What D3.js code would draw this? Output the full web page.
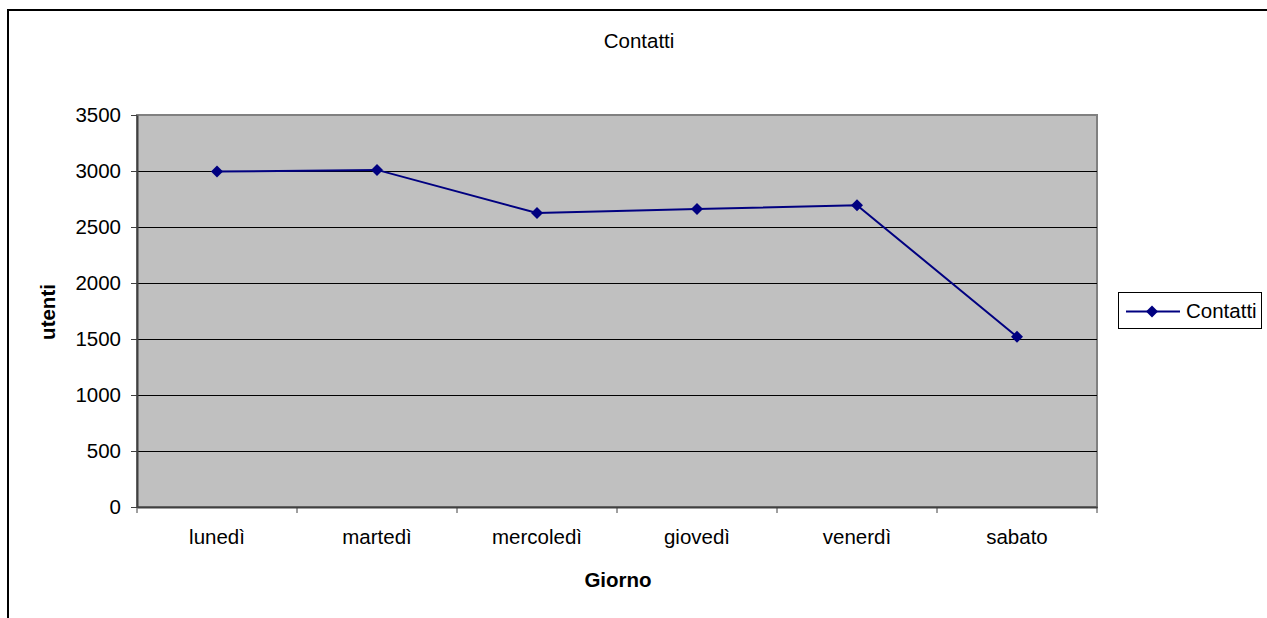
<!DOCTYPE html>
<html>
<head>
<meta charset="utf-8">
<script src="https://cdn.jsdelivr.net/npm/d3@7"></script>
<style>
  html, body { margin: 0; padding: 0; background: #fff; overflow: hidden; }
  svg { display: block; font-family: "Liberation Sans", Arial, sans-serif; }
</style>
</head>
<body>
<svg id="chart" width="1267" height="618"></svg>
<script>
const categories = ["lunedì", "martedì", "mercoledì", "giovedì", "venerdì", "sabato"];
const values = [2995, 3010, 2625, 2660, 2695, 1520];
const yTicks = [0, 500, 1000, 1500, 2000, 2500, 3000, 3500];
const seriesName = "Contatti";
const chartTitle = "Contatti";
const xTitle = "Giorno";
const yTitle = "utenti";

const FONT = "Liberation Sans, Arial, sans-serif";
const FS = 20.5;
const svg = d3.select("#chart");
const W = 1267, H = 618;
const plot = { left: 137, right: 1097, top: 115, bottom: 507 };

// outer border
svg.append("rect").attr("x", 8).attr("y", 10).attr("width", W + 10).attr("height", H + 10)
  .attr("fill", "#fff").attr("stroke", "#000").attr("stroke-width", 2);

const x = d3.scaleBand().domain(categories).range([plot.left, plot.right]).padding(0);
const y = d3.scaleLinear().domain([0, 3500]).range([plot.bottom, plot.top]);

// plot area
svg.append("rect").attr("x", plot.left).attr("y", plot.top)
  .attr("width", plot.right - plot.left).attr("height", plot.bottom - plot.top)
  .attr("fill", "#C0C0C0").attr("stroke", "#808080").attr("stroke-width", 2);

// gridlines
svg.append("g").selectAll("line").data(yTicks.filter(d => d > 0 && d < 3500)).join("line")
  .attr("x1", plot.left).attr("x2", plot.right)
  .attr("y1", d => Math.round(y(d)) + 0.5).attr("y2", d => Math.round(y(d)) + 0.5)
  .attr("stroke", "#000").attr("stroke-width", 1);

// y axis
const yAxis = d3.axisLeft(y).tickValues(yTicks).tickFormat(d3.format("d"))
  .tickSize(6).tickPadding(10).tickSizeOuter(0);
const gy = svg.append("g").attr("transform", `translate(${plot.left},0)`).call(yAxis);
gy.select(".domain").attr("stroke", "#404040").attr("stroke-width", 2);
gy.selectAll(".tick line").attr("stroke", "#404040");
gy.selectAll(".tick text").attr("font-size", FS).attr("fill", "#000").attr("font-family", FONT);

// x axis
const xAxis = d3.axisBottom(x).tickSize(0).tickPadding(22).tickSizeOuter(0);
const gx = svg.append("g").attr("transform", `translate(0,${plot.bottom})`).call(xAxis);
gx.select(".domain").attr("stroke", "#404040").attr("stroke-width", 2);
gx.selectAll(".tick text").attr("font-size", FS).attr("fill", "#000").attr("font-family", FONT);
// category boundary ticks
const bounds = categories.map(c => x(c)).concat([x(categories[categories.length - 1]) + x.bandwidth()]);
svg.append("g").selectAll("line").data(bounds).join("line")
  .attr("x1", d => d).attr("x2", d => d)
  .attr("y1", plot.bottom).attr("y2", plot.bottom + 6)
  .attr("stroke", "#404040").attr("stroke-width", 1);

// line
const cx = c => x(c) + x.bandwidth() / 2;
const pts = categories.map((c, i) => [cx(c), y(values[i])]);
svg.append("path").datum(pts)
  .attr("d", d3.line())
  .attr("fill", "none").attr("stroke", "#000080").attr("stroke-width", 2);

const diamond = (px, py, r) => `M${px},${py - r}L${px + r},${py}L${px},${py + r}L${px - r},${py}Z`;
svg.append("g").selectAll("path").data(pts).join("path")
  .attr("d", d => diamond(d[0], d[1], 6))
  .attr("fill", "#000080");

// titles
svg.append("text").attr("x", 639).attr("y", 48).attr("text-anchor", "middle")
  .attr("font-size", FS).text(chartTitle);
svg.append("text").attr("x", (plot.left + plot.right) / 2 + 1).attr("y", 587).attr("text-anchor", "middle")
  .attr("font-size", FS).attr("font-weight", "bold").text(xTitle);
svg.append("text").attr("transform", `translate(55,${(plot.top + plot.bottom) / 2 + 1}) rotate(-90)`)
  .attr("text-anchor", "middle").attr("font-size", FS).attr("font-weight", "bold").text(yTitle);

// legend
const lg = svg.append("g");
lg.append("rect").attr("x", 1118.5).attr("y", 292.5).attr("width", 143).attr("height", 36)
  .attr("fill", "#fff").attr("stroke", "#000").attr("stroke-width", 1);
lg.append("line").attr("x1", 1126).attr("x2", 1180).attr("y1", 311.5).attr("y2", 311.5)
  .attr("stroke", "#000080").attr("stroke-width", 2);
lg.append("path").attr("d", diamond(1152, 311.5, 6)).attr("fill", "#000080");
lg.append("text").attr("x", 1186).attr("y", 318).attr("font-size", FS).text(seriesName);
</script>
</body>
</html>
